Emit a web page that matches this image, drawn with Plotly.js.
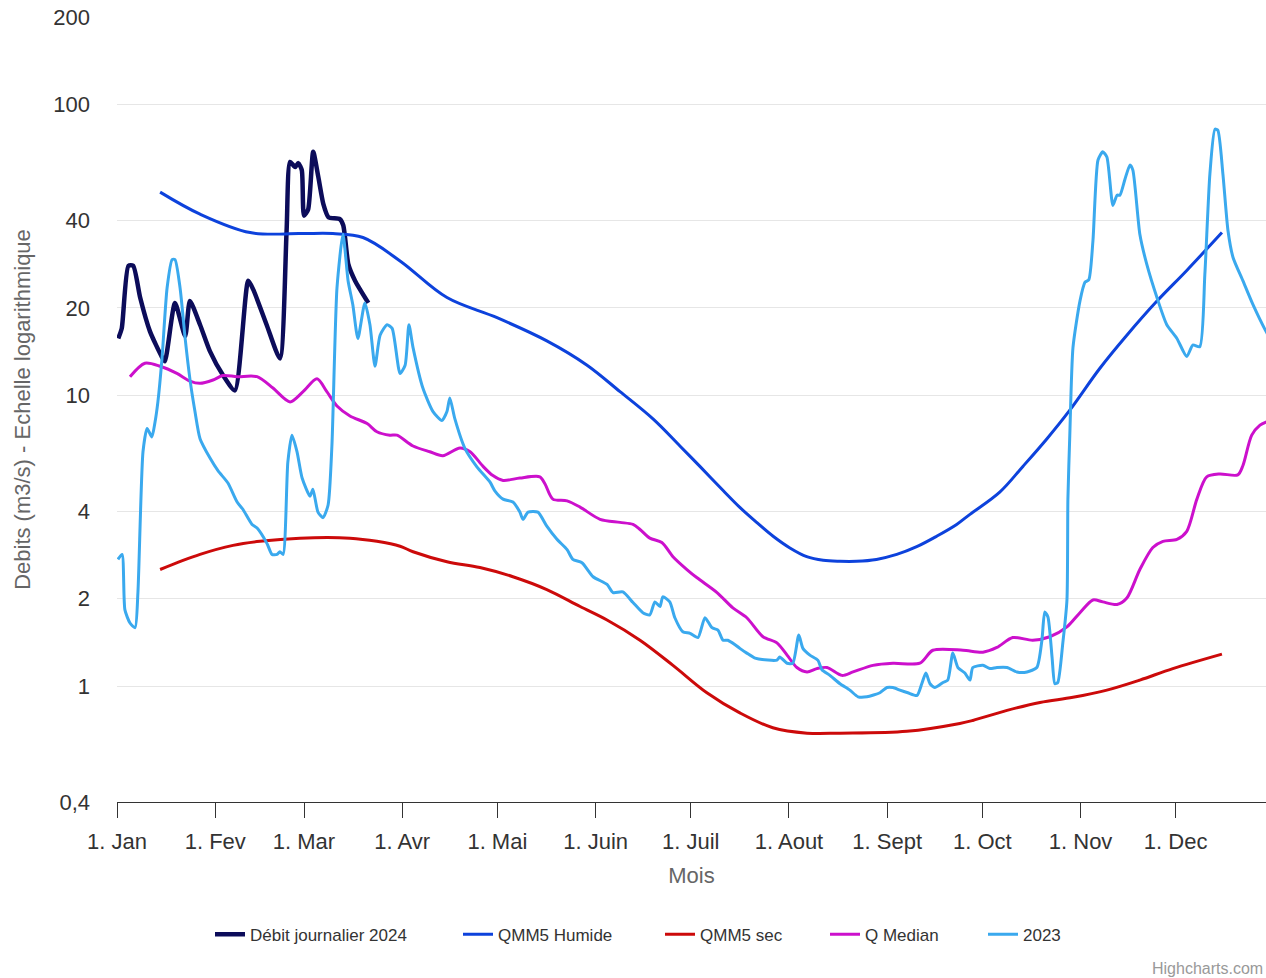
<!DOCTYPE html>
<html>
<head>
<meta charset="utf-8">
<script src="https://cdn.plot.ly/plotly-3.0.1.min.js"></script>
<style>
  html, body { margin: 0; padding: 0; background: #ffffff; }
  #chart { width: 1266px; height: 978px; }
</style>
</head>
<body>
<div id="chart"></div>
<script>
// x values are day-of-year (0 = 1 Jan, non-leap calendar axis)
const monthTickDays = [0, 31, 59, 90, 120, 151, 181, 212, 243, 273, 304, 334];
const monthTickLabels = ["1. Jan", "1. Fev", "1. Mar", "1. Avr", "1. Mai", "1. Juin",
                         "1. Juil", "1. Aout", "1. Sept", "1. Oct", "1. Nov", "1. Dec"];
const yTickVals = [0.4, 1, 2, 4, 10, 20, 40, 100, 200];
const yTickLabels = ["0,4", "1", "2", "4", "10", "20", "40", "100", "200"];

const daily2024Days = [0.4, 1.5, 3.6, 5.1, 7.3, 10.4, 14.1, 15.1, 18.3, 21.5, 23.0, 26.2, 29.3, 33.5,
  37.2, 41.4, 43.0, 47.2, 51.4, 53.5, 54.6, 56.2, 57.2, 58.3, 59.0, 60.3, 61.9, 63.5, 65.1, 66.7,
  70.3, 71.4, 73.0, 75.1, 79.3];
const daily2024Vals = [15.7, 17.0, 27.9, 27.9, 21.7, 16.6, 13.6, 13.1, 20.8, 16.0, 21.1, 17.5, 14.2, 11.7,
  10.4, 24.8, 23.1, 17.5, 13.4, 36.7, 63.5, 61.0, 62.9, 59.5, 41.5, 43.6, 68.8, 56.5, 45.5, 41.0,
  40.4, 38.4, 28.2, 24.8, 20.8];

const humideDays = [13.6, 26.2, 42.0, 57.7, 68.1, 77.6, 89.3, 104.1, 119.9, 135.6, 148.3, 158.7, 169.1,
  177.6, 183.9, 191.3, 196.5, 201.8, 207.0, 212.3, 217.6, 222.8, 228.1, 233.3, 239.6, 246.0, 252.3,
  258.6, 264.9, 269.1, 278.5, 285.8, 293.4, 300.6, 310.1, 318.6, 328.1, 337.5, 348.6];
const humideVals = [50, 42, 36.3, 36.0, 36.0, 34.9, 29.0, 21.7, 18.5, 15.4, 12.7, 10.3, 8.3,
  6.7, 5.7, 4.7, 4.12, 3.66, 3.28, 2.99, 2.79, 2.71, 2.69, 2.69, 2.73, 2.84, 3.02,
  3.28, 3.6, 3.9, 4.65, 5.7, 7.1, 8.9, 12.4, 16.1, 21.1, 26.9, 36.3];

const secDays = [13.6, 26.2, 36.6, 45.1, 57.7, 73.5, 82.0, 89.3, 93.4, 104.1, 114.5, 124.9, 135.6,
  146.1, 154.6, 165.0, 175.4, 186.1, 196.5, 206.9, 217.7, 228.1, 249.2, 265.9, 270.0, 280.8,
  291.2, 301.6, 312.3, 322.7, 333.1, 348.6];
const secVals = [2.52, 2.84, 3.05, 3.15, 3.23, 3.23, 3.15, 3.03, 2.90, 2.68, 2.56, 2.38, 2.15,
  1.88, 1.69, 1.44, 1.18, 0.95, 0.81, 0.72, 0.69, 0.69, 0.70, 0.745, 0.763, 0.826,
  0.88, 0.916, 0.97, 1.05, 1.15, 1.29];

const medianDays = [4.1, 8.8, 13.6, 18.9, 23.0, 26.2, 30.3, 33.4, 37.9, 44.2, 49.2, 54.6, 58.7, 63.1,
  66.2, 69.4, 73.5, 78.9, 82.0, 86.1, 88.3, 93.4, 98.7, 102.8, 108.2, 111.4, 115.5, 118.6, 121.8,
  127.1, 133.4, 135.0, 137.5, 142.0, 146.1, 152.4, 158.7, 162.8, 165.0, 168.1, 171.9, 175.4, 179.8,
  183.0, 189.3, 194.3, 198.7, 203.8, 208.2, 211.4, 214.5, 217.7, 220.8, 224.0, 228.7, 232.2, 238.5,
  244.8, 253.3, 257.4, 266.9, 273.2, 277.6, 282.6, 288.9, 294.3, 299.7, 303.8, 307.9, 311.0, 315.5,
  318.6, 322.7, 326.8, 330.0, 334.4, 337.5, 340.7, 343.8, 347.9, 353.6, 355.2, 358.0, 360.6, 362.5, 364];
const medianVals = [11.6, 12.9, 12.6, 11.9, 11.2, 11.0, 11.3, 11.7, 11.6, 11.6, 10.6, 9.5, 10.3, 11.4,
  10.3, 9.2, 8.5, 8.0, 7.5, 7.3, 7.3, 6.7, 6.4, 6.2, 6.6, 6.4, 5.7, 5.3, 5.1,
  5.2, 5.25, 4.97, 4.4, 4.34, 4.13, 3.75, 3.66, 3.6, 3.46, 3.23, 3.12, 2.79, 2.52,
  2.36, 2.10, 1.86, 1.72, 1.48, 1.41, 1.28, 1.16, 1.12, 1.15, 1.16, 1.09, 1.12, 1.18,
  1.20, 1.20, 1.33, 1.33, 1.31, 1.36, 1.47, 1.44, 1.48, 1.60, 1.79, 1.98, 1.95, 1.91,
  2.01, 2.52, 3.0, 3.15, 3.2, 3.41, 4.4, 5.25, 5.37, 5.33, 5.73, 7.3, 7.9, 8.1, 8.2];

const y2023Days = [0.3, 1.6, 2.5, 4.1, 5.7, 6.6, 8.2, 9.5, 11.0, 12.0, 12.9, 14.2, 15.8, 17.4, 18.3,
  19.9, 21.5, 23.0, 24.6, 26.2, 29.3, 31.9, 35.0, 37.9, 39.7, 42.6, 44.2, 47.3, 48.9, 50.5, 51.4,
  52.4, 53.9, 55.2, 56.8, 58.4, 60.9, 61.8, 63.4, 65.0, 66.6, 67.8, 69.4, 71.3, 72.9, 74.4, 76.0,
  78.2, 79.8, 81.4, 83.0, 85.2, 86.8, 89.3, 90.9, 92.1, 93.4, 96.5, 99.7, 102.5, 104.1, 105.0,
  106.6, 109.8, 113.6, 117.7, 119.2, 121.8, 124.9, 127.1, 128.1, 129.7, 132.8, 135.6, 138.8,
  142.0, 143.8, 146.7, 150.2, 154.6, 156.5, 159.6, 162.8, 165.9, 168.1, 169.7, 171.3, 172.2,
  174.4, 176.0, 178.5, 180.8, 183.3, 185.5, 187.7, 189.6, 191.2, 192.7, 195.0, 196.5, 198.7,
  201.3, 205.4, 208.2, 209.1, 211.4, 213.2, 215.1, 216.4, 218.6, 221.1, 222.4, 224.9, 228.1,
  231.2, 233.8, 236.6, 240.7, 242.9, 244.8, 247.0, 249.5, 252.4, 253.9, 255.2, 256.5, 258.0,
  260.6, 262.1, 263.7, 265.3, 267.5, 269.1, 270.0, 273.2, 275.4, 277.6, 280.8, 283.9, 287.1,
  290.2, 291.8, 292.7, 293.7, 295.0, 295.9, 296.8, 298.4, 299.7, 300.0, 300.6, 301.6, 303.8,
  305.4, 306.6, 307.9, 309.5, 311.0, 312.3, 314.2, 315.5, 316.4, 318.0, 319.6, 320.5, 322.7,
  324.9, 328.1, 331.2, 334.4, 337.5, 339.4, 341.6, 343.2, 344.8, 346.4, 347.3, 348.9, 350.5,
  352.1, 355.2, 358.4, 362.5, 364];
const y2023Vals = [2.73, 2.84, 1.83, 1.65, 1.59, 2.10, 6.4, 7.7, 7.2, 8.1, 9.5, 13.4, 23.4, 29.3, 29.3,
  23.4, 15.7, 11.4, 8.8, 7.1, 6.1, 5.5, 5.0, 4.3, 4.06, 3.6, 3.5, 3.1, 2.84, 2.84, 2.9,
  2.84, 5.9, 7.3, 6.4, 5.2, 4.5, 4.76, 3.97, 3.8, 4.2, 6.7, 23.4, 35.8, 24.8, 20.5, 15.7,
  20.8, 17.5, 12.6, 16.1, 17.5, 17.0, 11.9, 12.7, 17.5, 14.6, 10.6, 8.8, 8.2, 8.8, 9.8,
  8.3, 6.56, 5.67, 5.03, 4.7, 4.4, 4.3, 3.97, 3.75, 3.97, 3.97, 3.55, 3.2,
  2.95, 2.73, 2.66, 2.38, 2.24, 2.10, 2.11, 1.94, 1.79, 1.76, 1.95, 1.88, 2.03,
  1.95, 1.72, 1.54, 1.52, 1.47, 1.72, 1.59, 1.56, 1.44, 1.44, 1.39, 1.35, 1.30,
  1.25, 1.23, 1.23, 1.26, 1.20, 1.20, 1.50, 1.35, 1.28, 1.23, 1.14, 1.09, 1.02,
  0.97, 0.92, 0.92, 0.95, 0.99, 0.99, 0.97, 0.95, 0.93, 1.02, 1.11, 1.02, 0.99,
  1.03, 1.05, 1.30, 1.16, 1.11, 1.05, 1.16, 1.18, 1.15, 1.16, 1.16, 1.12, 1.12,
  1.16, 1.44, 1.80, 1.73, 1.26, 1.02, 1.03, 1.41, 1.98, 4.4, 7.3, 14.6, 21.1,
  24.5, 25.0, 34.0, 64.5, 68.8, 66.0, 45.0, 48.8, 48.8, 55.4, 62.0, 59.5, 35.8,
  28.2, 21.7, 17.5, 15.7, 13.6, 14.9, 14.7, 26.0, 57.8, 82.3, 81.6, 57.8, 36.9,
  29.8, 24.8, 20.5, 16.6, 15.6];

const seriesNames = ["Débit journalier 2024", "QMM5 Humide", "QMM5 sec", "Q Median", "2023"];
const seriesColors = ["#0c0c5a", "#0d42dc", "#cc0a0a", "#cc10cc", "#3aa9ee"];

const FONT = "Liberation Sans, Arial, Helvetica, sans-serif";

// each series gets its own legend box so the entries can be spaced like the original
const legendIds = ["legend", "legend2", "legend3", "legend4", "legend5"];
const legendSymbolPx = [215, 463, 665, 830, 988];   // layout: left edge of each legend symbol

function mk(i, xs, ys, width, smooth) {
  return {
    type: "scatter", mode: "lines", name: seriesNames[i], x: xs, y: ys,
    legend: legendIds[i],
    line: { color: seriesColors[i], width: width, shape: "spline", smoothing: smooth },
    hoverinfo: "x+y+name"
  };
}

const data = [
  mk(0, daily2024Days, daily2024Vals, 4.5, 0.6),
  mk(1, humideDays, humideVals, 3, 1.0),
  mk(2, secDays, secVals, 3, 1.0),
  mk(3, medianDays, medianVals, 3, 0.8),
  mk(4, y2023Days, y2023Vals, 3, 0.6)
];

const M_L = 117, PLOT_W = 1266 - 117;

const layout = {
  width: 1266, height: 978,
  margin: { l: M_L, r: 0, t: 17, b: 176, pad: 0 },
  paper_bgcolor: "#ffffff", plot_bgcolor: "#ffffff",
  font: { family: FONT, color: "#333333" },
  showlegend: true,
  xaxis: {
    range: [0, 362.5],
    tickmode: "array", tickvals: monthTickDays, ticktext: monthTickLabels,
    ticks: "outside", ticklen: 15, tickwidth: 1, tickcolor: "#333333",
    showline: true, linecolor: "#333333", linewidth: 1,
    showgrid: false, zeroline: false,
    tickfont: { family: FONT, size: 22, color: "#333333" },
    ticklabelstandoff: 5,
    title: { text: "Mois", font: { family: FONT, size: 22, color: "#666666" }, standoff: 14 },
    fixedrange: true
  },
  yaxis: {
    type: "log",
    range: [Math.log10(0.4), Math.log10(200)],
    tickmode: "array", tickvals: yTickVals, ticktext: yTickLabels,
    ticks: "", showline: false, zeroline: false,
    showgrid: true, gridcolor: "#e6e6e6", gridwidth: 1,
    tickfont: { family: FONT, size: 22, color: "#333333" },
    ticklabelstandoff: 26,
    title: { text: "Debits (m3/s) - Echelle logarithmique", font: { family: FONT, size: 22, color: "#666666" }, standoff: 16 },
    fixedrange: true
  },
  annotations: [{
    text: "Highcharts.com", showarrow: false,
    xref: "paper", yref: "paper", x: (1265 - M_L) / PLOT_W, xanchor: "right", y: -0.2115, yanchor: "middle",
    font: { family: FONT, size: 16, color: "#999999" }
  }]
};

legendIds.forEach(function (id, i) {
  layout[id] = {
    orientation: "h", xref: "paper", yref: "paper",
    x: (legendSymbolPx[i] - 5 - M_L) / PLOT_W, xanchor: "left",
    y: -0.169, yanchor: "middle",
    font: { family: FONT, size: 17, color: "#333333" },
    bgcolor: "rgba(0,0,0,0)", itemwidth: 30
  };
});

Plotly.newPlot("chart", data, layout, { displayModeBar: false, responsive: false });
</script>
</body>
</html>
